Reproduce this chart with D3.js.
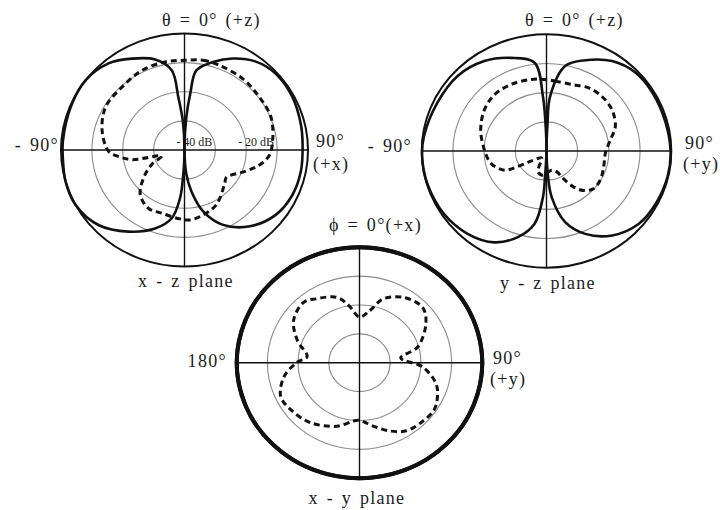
<!DOCTYPE html>
<html>
<head>
<meta charset="utf-8">
<script src="https://cdn.jsdelivr.net/npm/d3@7"></script>
<style>
  html, body { margin: 0; padding: 0; background: #fff; }
  text { font-family: "Liberation Serif", "Times New Roman", serif; fill: #1c1c1c; }
  text.dir { letter-spacing: 1.3px; word-spacing: 2px; }
</style>
</head>
<body>
<svg id="chart" width="720" height="510"></svg>
<script>
// ---- radial scale levels (dB) ----
const dbRange = [-50, -10];
const ringLevels = [-40, -30, -20, -10];
const ringLabelLevels = [-40, -20];

// ---- x-z plane (angle in degrees from +z, clockwise) ----
const xzSolidAngle = [0, 3, 5.5, 8, 17, 26.5, 37, 48.5, 62.5, 77, 87, 101, 114, 127, 141, 154, 164, 171, 176, 180,
  183, 185, 190, 199.5, 213, 227, 242, 254.4, 266, 274.5, 291.6, 306.7, 320.4, 331.5, 343, 351.4, 353.7, 357];
const xzSolidDb = [-50, -38.7, -30.6, -22.4, -18.4, -14.9, -11.9, -10.5, -10.6, -11.3, -11.7, -11.6, -11.8, -13, -16.3, -21.4, -28.1, -35.6, -41.9, -50,
  -40.3, -33.4, -26.2, -21.4, -16.6, -12.1, -10, -10, -10.5, -10.5, -10.3, -10, -11.4, -14.3, -17.5, -22.3, -31.8, -40.3];
const xzDashAngle = [0, 11, 21, 38, 53, 68, 84, 94, 102, 110, 125, 131, 151, 165, 176, 185, 199, 210, 223, 234,
  245, 254, 259, 264, 269, 284, 300, 317, 333, 348];
const xzDashDb = [-19.2, -18.6, -18.8, -19.1, -19.7, -19.8, -21.3, -22.5, -25.2, -28.8, -33.5, -32.7, -28.6, -26.9, -25.9, -26.4, -27.1, -26.8, -29, -33.6,
  -38.3, -42.3, -32.7, -28.5, -25.4, -22.5, -20.5, -20.4, -19.4, -19.1];

// ---- y-z plane ----
const yzSolidAngle = [0, 2, 3.5, 11.6, 21.8, 34.3, 46.8, 59.6, 76, 91.2, 102.9, 117.3, 130.1, 144, 156.4, 166.2, 174, 177, 180,
  183, 184.1, 188.7, 197.3, 208.1, 221.7, 236.8, 253.8, 267.2, 277.2, 295.2, 311.9, 327.1, 340.4, 352.8, 356.5, 358];
const yzSolidDb = [-50, -40.3, -31.3, -20.3, -16.5, -12.7, -10.8, -10.6, -10.6, -10.2, -10.2, -10.6, -11.3, -14.2, -19, -24.9, -34.1, -41.9, -50,
  -41.9, -34.2, -24.8, -19.1, -14.5, -12, -10.7, -10.2, -10.1, -10.4, -11.3, -11.6, -13.3, -16.1, -19.5, -31.3, -40.3];
const yzDashAngle = [0, 6.5, 19.6, 32, 43.6, 56.1, 69.2, 79.5, 92, 106.5, 120, 131, 139, 145, 150.5, 155, 166, 188, 201, 212,
  222, 235, 240, 244, 256.6, 271, 289, 305.3, 319.1, 333.5, 348.7];
const yzDashDb = [-25.5, -25.9, -25.8, -24.5, -24.2, -24.7, -26.4, -29.2, -31.1, -30.9, -30.1, -30.2, -32.1, -35, -39.2, -42.1, -43.2, -41.6, -42.4, -47.1,
  -46.8, -43.9, -39.4, -35, -31.7, -30.1, -27.7, -25.6, -24.5, -24.5, -25];

// ---- x-y plane (angle from +x, clockwise toward +y) ----
const xySolidAngle = [0, 30, 60, 90, 120, 150, 180, 210, 240, 270, 300, 330];
const xySolidDb = [-10, -10, -10, -10, -10, -10, -10, -10, -10, -10, -10, -10];
const xyDashAngle = [0, 10.6, 19.2, 32, 47, 58, 74, 83, 94, 106, 115, 124, 134.5, 147, 157.4, 168.5, 180, 185.6, 198.5, 217.6,
  234, 245.6, 259, 270.5, 277, 291, 304.3, 318.9, 327.2, 342, 350];
const xyDashDb = [-34.2, -31.6, -26.6, -23.3, -21.9, -24.5, -30.3, -36.5, -29.4, -24.1, -22, -20.7, -21.1, -21.9, -24.4, -27.6, -30, -29.7, -26.8, -23.8,
  -22.3, -21.8, -25, -29.7, -32.8, -28.3, -24, -22.3, -23.7, -26.2, -29.9];

// ---- label texts ----
const xzLabels = { top: "θ = 0° (+z)", left: "- 90°", right: ["90°", "(+x)"], title: "x - z plane" };
const yzLabels = { top: "θ = 0° (+z)", left: "- 90°", right: ["90°", "(+y)"], title: "y - z plane" };
const xyLabels = { top: "ϕ = 0°(+x)", left: "180°", right: ["90°", "(+y)"], title: "x - y plane" };

const svg = d3.select("#chart");
const zip = (a, d) => a.map((v, i) => ({ angle: v, db: d[i] }));

const plots = [
  { cx: 184.5, cy: 150, rx: 123.5, ry: 116.5, solid: zip(xzSolidAngle, xzSolidDb), dash: zip(xzDashAngle, xzDashDb),
    labels: xzLabels, solidWidth: 2.6, rimWidth: 2, ringText: true,
    pos: { top: [162, 26], left: [59, 151], right: [[316, 147], [313, 170]], title: [186, 287] } },
  { cx: 546.5, cy: 151, rx: 124.8, ry: 116.7, solid: zip(yzSolidAngle, yzSolidDb), dash: zip(yzDashAngle, yzDashDb),
    labels: yzLabels, solidWidth: 2.6, rimWidth: 2, ringText: false,
    pos: { top: [525, 26], left: [412, 152], right: [[685, 149], [683, 170]], title: [548, 289] } },
  { cx: 359.5, cy: 362.7, rx: 122.8, ry: 115.5, solid: zip(xySolidAngle, xySolidDb), dash: zip(xyDashAngle, xyDashDb),
    labels: xyLabels, solidWidth: 4, rimWidth: 4, ringText: false,
    pos: { top: [329, 231], left: [227, 367], right: [[493, 364], [490, 385]], title: [357, 504] } }
];

const frac = d3.scaleLinear().domain(dbRange).range([0, 1]).clamp(true);
const rad = d => d * Math.PI / 180;

plots.forEach(p => {
  const g = svg.append("g");
  const px = d => p.cx + frac(d.db) * p.rx * Math.sin(rad(d.angle));
  const py = d => p.cy - frac(d.db) * p.ry * Math.cos(rad(d.angle));

  // concentric level rings
  g.selectAll("ellipse.ring")
    .data(ringLevels.slice(0, -1))
    .join("ellipse")
    .attr("cx", p.cx).attr("cy", p.cy)
    .attr("rx", d => frac(d) * p.rx).attr("ry", d => frac(d) * p.ry)
    .attr("fill", "none").attr("stroke", "#8c8c8c").attr("stroke-width", 1.1);

  // axes through the centre
  g.append("line").attr("x1", p.cx - p.rx).attr("x2", p.cx + p.rx).attr("y1", p.cy).attr("y2", p.cy)
    .attr("stroke", "#111").attr("stroke-width", 1.4);
  g.append("line").attr("x1", p.cx).attr("x2", p.cx).attr("y1", p.cy - p.ry).attr("y2", p.cy + p.ry)
    .attr("stroke", "#111").attr("stroke-width", 1.4);

  // outer rim at the top level
  g.append("ellipse").attr("cx", p.cx).attr("cy", p.cy)
    .attr("rx", frac(dbRange[1]) * p.rx).attr("ry", frac(dbRange[1]) * p.ry)
    .attr("fill", "none").attr("stroke", "#111").attr("stroke-width", p.rimWidth);

  // ring value labels
  if (p.ringText) {
    g.selectAll("text.ringlab")
      .data(ringLabelLevels)
      .join("text")
      .attr("x", d => p.cx + frac(d) * p.rx - 3)
      .attr("y", p.cy - 4)
      .attr("text-anchor", "end")
      .attr("font-size", 12)
      .text(d => `- ${Math.abs(d)} dB`);
  }

  const curve = d3.line().x(px).y(py).curve(d3.curveCatmullRomClosed.alpha(0.5));

  // solid trace: split into lobes wherever it reaches the centre
  const pts = p.solid;
  const nulls = pts.map((d, i) => d.db <= dbRange[0] ? i : -1).filter(i => i >= 0);
  let lobes = [];
  if (nulls.length === 0) {
    lobes = [pts];
  } else {
    nulls.forEach((s, k) => {
      const e = nulls[(k + 1) % nulls.length];
      const lobe = [];
      let i = s;
      do { lobe.push(pts[i]); i = (i + 1) % pts.length; } while (i !== e);
      lobes.push(lobe);
    });
  }
  g.selectAll("path.solid")
    .data(lobes)
    .join("path")
    .attr("d", curve)
    .attr("fill", "none").attr("stroke", "#111")
    .attr("stroke-width", p.solidWidth).attr("stroke-linejoin", "round");

  // dashed trace
  g.append("path")
    .datum(p.dash)
    .attr("d", curve)
    .attr("fill", "none").attr("stroke", "#111")
    .attr("stroke-width", 3).attr("stroke-dasharray", "6 4");

  // direction labels
  const L = p.labels, P = p.pos;
  g.append("text").attr("class", "dir").attr("x", P.top[0]).attr("y", P.top[1]).attr("font-size", 18).text(L.top);
  g.append("text").attr("class", "dir").attr("x", P.left[0]).attr("y", P.left[1]).attr("font-size", 18)
    .attr("text-anchor", "end").text(L.left);
  L.right.forEach((t, i) => {
    g.append("text").attr("class", "dir").attr("x", P.right[i][0]).attr("y", P.right[i][1]).attr("font-size", 18).text(t);
  });
  g.append("text").attr("class", "dir").attr("x", P.title[0]).attr("y", P.title[1]).attr("font-size", 18)
    .attr("text-anchor", "middle").text(L.title);
});
</script>
</body>
</html>
